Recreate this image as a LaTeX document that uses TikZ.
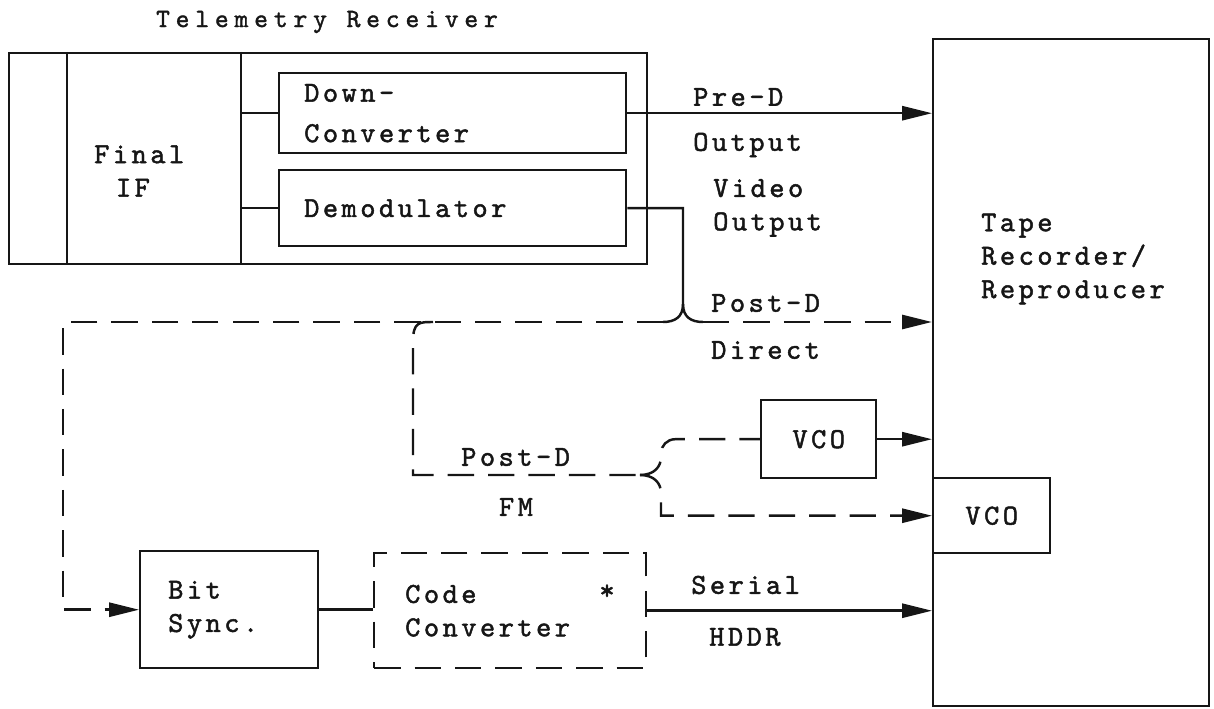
\documentclass[tikz,border=0pt]{standalone}
\usepackage{fontspec}
\usetikzlibrary{arrows.meta,calc,positioning}
\definecolor{TypeInk}{HTML}{161616}
\newfontfamily\typewfam{lmmono10-regular.otf}[LetterSpace=12,FakeBold=1.6]
\newfontfamily\titlefam{lmmono10-regular.otf}[LetterSpace=22,FakeBold=1.4]
\newcommand{\typefont}{\typewfam\fontsize{16.5}{19}\selectfont}
\newcommand{\titlefont}{\titlefam\fontsize{15}{18}\selectfont}

\begin{document}
\begin{tikzpicture}[x=0.02cm,y=-0.02cm,line width=1.4pt,color=TypeInk,
    every node/.style={font=\typefont},
    unit/.style={draw,rectangle,inner sep=0pt,anchor=north west,align=left},
    lbl/.style={inner sep=0pt,anchor=west,align=left},
    dsh/.style={dash pattern=on 15pt off 8pt},
    sig/.style={-{Triangle[length=17pt,width=8pt]}}]
  \useasboundingbox (0,0) rectangle (1214,709);

  \node[font=\titlefont] (title) at (327,22) {Telemetry Receiver};
  \node[unit,minimum width=12.76cm,minimum height=4.22cm] (rcv) at (8,52) {};
  \coordinate (stripdiv) at (67,52);
  \coordinate (ifdiv) at (241,52);
  \draw (stripdiv) -- (stripdiv |- rcv.south);
  \draw (ifdiv) -- (ifdiv |- rcv.south);
  \node[lbl] (fif) at (93,171) {Final\\\hspace*{0.75em}IF};
  \node[unit,minimum width=6.94cm,minimum height=1.6cm,text width=5.94cm] (dc) at (278,72) {Down-\\[4pt]Converter};
  \node[unit,minimum width=6.94cm,minimum height=1.52cm,text width=5.94cm] (dem) at (278,169) {Demodulator};
  \draw (dc.west -| ifdiv) -- (dc.west);
  \draw (dem.west -| ifdiv) -- (dem.west);

  \node[unit,minimum width=5.52cm,minimum height=13.34cm] (tape) at (932,38) {};
  \node[lbl] (tapetxt) at (980,259) {Tape\\Recorder/\\Reproducer};
  \node[unit,minimum width=2.3cm,minimum height=1.56cm,align=center] (vco1) at (760,399) {VCO};
  \node[unit,minimum width=2.34cm,minimum height=1.5cm,align=center] (vco2) at (932,477) {VCO};
  \node[unit,minimum width=3.56cm,minimum height=2.34cm,text width=2.44cm] (bits) at (139,550) {Bit\\Sync.};
  \node[unit,dsh,minimum width=5.44cm,minimum height=2.3cm,text width=4.2cm] (cc) at (373,552) {Code\\Converter};
  \node (mark) at (607,592) {*};

  \coordinate (hop) at (683,322);
  \coordinate (loop) at (63,322);
  \coordinate (tee) at (413,322);
  \coordinate (fmj) at (640,475);

  \draw[sig] (dc.east) -- (dc.east -| tape.west);
  \draw (dem.east) -| ($(hop)+(0,-18)$) .. controls ($(hop)+(0,-5)$) and ($(hop)+(-8,0)$) .. ($(hop)+(-20,0)$);
  \draw ($(hop)+(0,-18)$) .. controls ($(hop)+(0,-5)$) and ($(hop)+(8,0)$) .. ($(hop)+(20,0)$);
  \draw[dsh,sig] ($(hop)+(20,0)$) -- (hop -| tape.west);
  \draw[dsh,sig] ($(hop)+(-20,0)$) -- (loop) |- (bits.west);
  \draw[dsh] ($(tee)+(20,0)$) .. controls ($(tee)+(6,0)$) and (tee) .. ($(tee)+(0,20)$) |- (fmj);
  \draw[dsh] (fmj) .. controls +(14,0) and +(0,10) .. ($(fmj)+(21,-18)$) [rounded corners=8pt] |- (vco1.west);
  \draw[dsh,sig] (fmj) .. controls +(14,0) and +(0,-10) .. ($(fmj)+(21,18)$) |- (vco2.west);
  \draw[sig] (vco1.east) -- (vco1.east -| tape.west);
  \draw (bits.east) -- (bits.east -| cc.west);
  \draw[sig] (cc.east) -- (cc.east -| tape.west);

  \node[lbl] (pred) at (692,97) {Pre-D};
  \node[lbl] (predout) at (692,145) {Output};
  \node[lbl] (vidout) at (712,208) {Video\\Output};
  \node[lbl] (postd) at (710,303) {Post-D};
  \node[lbl] (direct) at (710,350) {Direct};
  \node[lbl] (postfm) at (460,457) {Post-D};
  \node (fm) at (516,507) {FM};
  \node[lbl] (serial) at (690,585) {Serial};
  \node[lbl] (hddr) at (708,637) {HDDR};
\end{tikzpicture}
\end{document}
